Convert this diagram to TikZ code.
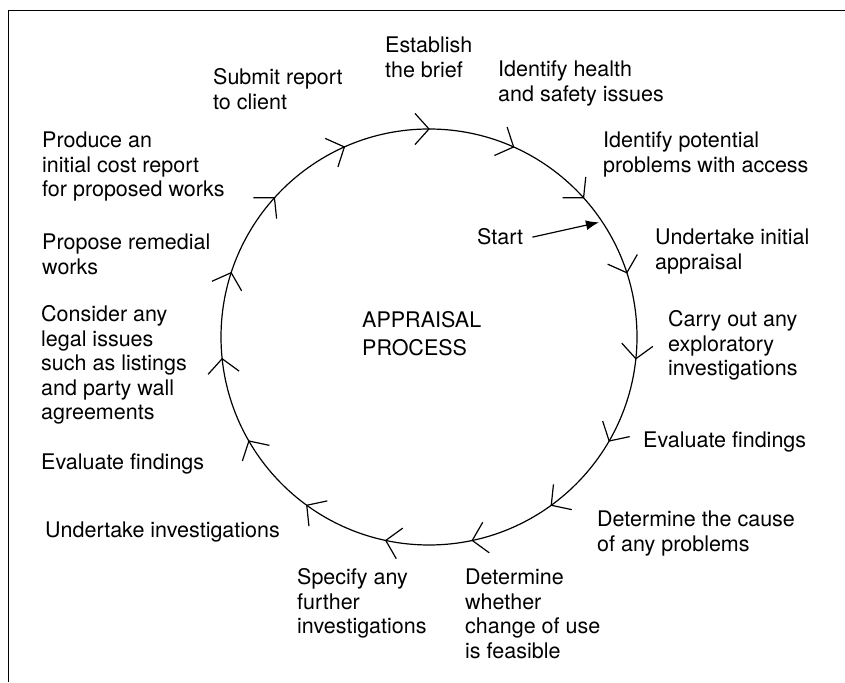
\documentclass[tikz,border=0pt]{standalone}
\usepackage{fontspec}
\setmainfont{TeX Gyre Heros}
\usetikzlibrary{arrows.meta}
\newcommand\ml[1]{\begin{tabular}[t]{@{}l@{}}#1\end{tabular}}
\begin{document}
\begin{tikzpicture}[x=1pt,y=1pt,
  lbl/.style={anchor=base west,inner sep=0pt,font=\fontsize{21.5}{24.5}\selectfont},
  ring/.style={line width=1.2pt},
  chev/.style={line width=1.2pt,line join=miter},
  startarrow/.style={line width=1.2pt,-{Latex[length=13pt,width=10pt]}}]
\useasboundingbox (0,0) rectangle (845,682);
\draw[line width=1.2pt] (8.5,0) -- (8.5,671.5) -- (845,671.5);
\coordinate (C) at (429,345);
\draw[ring] (C) circle[radius=208];
\begin{scope}[shift={(C)}]
\foreach \a in {18,42,...,354} {
  \draw[chev] (\a:208) ++(\a+42:21) -- (\a:208) -- ++(\a+138:21);
}
\coordinate (sp) at (34:205);
\end{scope}
\node[lbl] (est) at (385,629) {\ml{Establish\\the brief}};
\node[lbl] (hs) at (498,605) {\ml{Identify health\\and safety issues}};
\node[lbl] (acc) at (603,534) {\ml{Identify potential\\problems with access}};
\node[lbl,inner xsep=9pt,inner ysep=0pt] (start) at (468,437) {Start};
\node[lbl] (ua) at (655,437) {\ml{Undertake initial\\appraisal}};
\node[lbl] (expl) at (668,355) {\ml{Carry out any\\exploratory\\investigations}};
\node[lbl] (evr) at (643,234) {Evaluate findings};
\node[lbl] (cause) at (597,155) {\ml{Determine the cause\\of any problems}};
\node[lbl] (cou) at (465,97) {\ml{Determine\\whether\\change of use\\is feasible}};
\node[lbl] (spec) at (297,97) {\ml{Specify any\\further\\investigations}};
\node[lbl] (ui) at (45,144) {Undertake investigations};
\node[lbl] (evl) at (41,212) {Evaluate findings};
\node[lbl] (legal) at (41,360) {\ml{Consider any\\legal issues\\such as listings\\and party wall\\agreements}};
\node[lbl] (rem) at (42,432) {\ml{Propose remedial\\works}};
\node[lbl] (cost) at (42,534) {\ml{Produce an\\initial cost report\\for proposed works}};
\node[lbl] (sub) at (213,597) {\ml{Submit report\\to client}};
\node[lbl] (proc) at (362,354) {\ml{APPRAISAL\\[3pt]PROCESS}};
\draw[startarrow] (start.east) -- (sp);
\end{tikzpicture}
\end{document}
